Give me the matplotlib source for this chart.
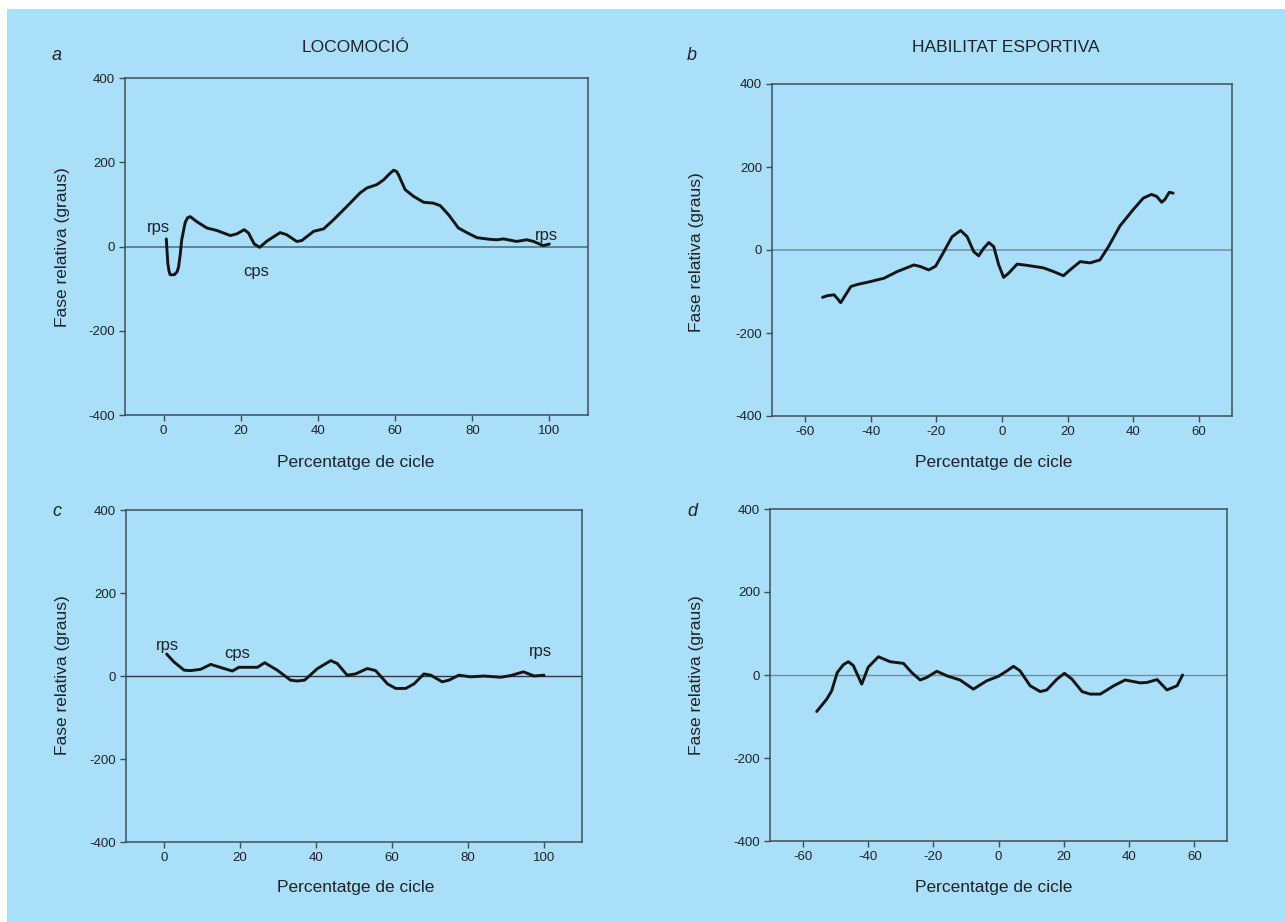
import matplotlib
matplotlib.use("Agg")
import matplotlib.pyplot as plt
from matplotlib.patches import Rectangle

plt.rcParams['font.family'] = ['Liberation Sans', 'DejaVu Sans']
plt.rcParams['axes.unicode_minus'] = False

# ---- data -------------------------------------------------------------
a_x = [0.7, 1.1, 1.4, 1.7, 2.8, 3.5, 3.9, 4.3, 4.7, 5.6, 6.2, 6.9, 8.6, 11.2,
       13.8, 17.3, 19.0, 20.9, 22.0, 23.5, 24.9, 26.8, 30.2, 31.9, 34.5,
       35.8, 38.9, 41.5, 44.0, 47.5, 50.9, 52.7, 55.3, 57.0, 58.5, 59.6,
       60.4, 60.9, 62.6, 64.8, 67.4, 69.9, 71.7, 73.9, 76.4, 78.6, 81.2,
       84.6, 86.4, 88.1, 91.5, 94.1, 95.9, 98.4, 100.0]
a_y = [18, -40, -58, -67, -67, -60, -48, -20, 16, 57, 68, 71, 59, 44,
       38, 26, 30, 40, 32, 6, -2, 13, 33, 28, 12,
       14, 36, 42, 63, 95, 127, 139, 147, 158, 172, 181,
       178, 170, 135, 119, 105, 103, 97, 75, 44, 33, 21,
       17, 16, 18, 12, 16, 12, 2, 6]

b_x = [-54.6, -53.1, -51.1, -50.1, -49.1, -47.6, -46.0, -44.0, -40.0, -35.9,
       -31.9, -26.8, -24.8, -22.3, -20.2, -17.7, -15.2, -12.6, -10.6, -8.6,
       -7.1, -5.6, -4.0, -2.5, -1.0, 0.5, 2.0, 4.6, 7.6, 12.6, 15.7, 18.7,
       20.7, 23.8, 26.8, 29.8, 32.4, 35.9, 40.0, 43.0, 45.5, 47.1, 48.6,
       49.6, 50.9, 52.1]
b_y = [-114, -110, -108, -117, -127, -108, -88, -83, -76, -68,
       -52, -36, -40, -48, -39, -4, 32, 47, 32, -4,
       -14, 4, 18, 8, -36, -66, -56, -34, -37, -43, -52, -62,
       -48, -28, -31, -24, 8, 58, 98, 125, 134, 129, 115,
       122, 139, 137]

c_x = [0.7, 2.6, 5.3, 7.0, 9.6, 12.3, 15.8, 18.0, 19.7, 21.9, 24.6, 26.5,
       29.8, 33.3, 35.1, 37.0, 40.4, 43.9, 45.6, 48.2, 50.4, 53.5, 55.7,
       58.8, 61.0, 63.6, 65.8, 68.4, 70.2, 73.2, 75.0, 77.6, 80.7, 84.2,
       88.6, 91.2, 94.6, 97.4, 100.0]
c_y = [53, 34, 14, 13, 16, 28, 18, 12, 21, 21, 21, 32,
       14, -10, -12, -10, 18, 37, 30, 2, 5, 18, 13,
       -19, -30, -30, -19, 5, 2, -14, -10, 2, -2, 0,
       -3, 1, 10, 0, 2]

d_x = [-55.7, -52.6, -51.1, -49.4, -47.5, -46.0, -44.5, -41.9, -39.9, -36.8,
       -33.2, -29.1, -26.6, -24.0, -22.0, -18.9, -15.8, -11.8, -7.7, -3.6,
       0.0, 2.6, 4.6, 6.6, 9.7, 12.8, 14.8, 17.9, 20.2, 22.5, 25.6, 28.1,
       31.2, 35.3, 38.8, 43.4, 45.5, 48.6, 51.6, 54.7, 56.4]
d_y = [-88, -58, -38, 6, 25, 32, 23, -22, 19, 44,
       32, 28, 6, -12, -6, 9, -2, -12, -34, -14,
       -3, 10, 21, 10, -26, -40, -36, -10, 4, -10, -40, -46,
       -46, -26, -12, -19, -18, -11, -36, -26, 0]

loco_ticks = [0, 20, 40, 60, 80, 100]
hab_ticks = [-60, -40, -20, 0, 20, 40, 60]
y_ticks = [-400, -200, 0, 200, 400]

panel_letters = ['a', 'b', 'c', 'd']
titles = ['LOCOMOCIÓ', 'HABILITAT ESPORTIVA']
ylabel = 'Fase relativa (graus)'
xlabel = 'Percentatge de cicle'

# ---- styling ------------------------------------------------------------
W, H = 1285, 922
BG = '#aadff9'
SPINE = '#3f4d58'
TXT = '#1e2328'

fig = plt.figure(figsize=(W / 100, H / 100), dpi=100, facecolor='white')
fig.patches.append(Rectangle((7 / W, 0), 1 - 7 / W, 1 - 9 / H,
                             transform=fig.transFigure, facecolor=BG,
                             edgecolor='none', zorder=-10))


def px_box(l, t, r, b):
    return [l / W, 1 - b / H, (r - l) / W, (b - t) / H]


panels = [
    dict(box=px_box(125, 78, 588, 415), x=a_x, y=a_y, xlim=(-10, 110),
         ticks=loco_ticks, zc='#51677a', zw=1.1),
    dict(box=px_box(772, 84, 1232, 416), x=b_x, y=b_y, xlim=(-70, 70),
         ticks=hab_ticks, zc='#6f8fa3', zw=1.1),
    dict(box=px_box(126, 510, 582, 842), x=c_x, y=c_y, xlim=(-10, 110),
         ticks=loco_ticks, zc='#2a3842', zw=1.0),
    dict(box=px_box(770, 509, 1227, 841), x=d_x, y=d_y, xlim=(-70, 70),
         ticks=hab_ticks, zc='#6f8fa3', zw=1.0),
]

axes = []
for p in panels:
    ax = fig.add_axes(p['box'])
    ax.set_facecolor('none')
    ax.set_xlim(*p['xlim'])
    ax.set_ylim(-400, 400)
    ax.set_xticks(p['ticks'])
    ax.set_yticks(y_ticks)
    ax.axhline(0, color=p['zc'], lw=p['zw'], zorder=1)
    ax.plot(p['x'], p['y'], color='#151515', lw=2.1,
            solid_joinstyle='round', solid_capstyle='round', zorder=3)
    for s in ax.spines.values():
        s.set_color(SPINE)
        s.set_linewidth(1.1)
    ax.tick_params(direction='out', length=4, width=1.0, color=SPINE,
                   labelsize=9.5, labelcolor=TXT, pad=3)
    axes.append(ax)

# stance-phase markers
ann = dict(fontsize=12, color=TXT, ha='center', va='center')
axes[0].text(-1.3, 44, 'rps', **ann)
axes[0].text(23.9, -59, 'cps', **ann)
axes[0].text(99.1, 26, 'rps', **ann)
axes[2].text(0.9, 73, 'rps', **ann)
axes[2].text(19.3, 54, 'cps', **ann)
axes[2].text(99.1, 58, 'rps', **ann)

# panel letters, titles and axis labels
for lab, (x, y) in zip(panel_letters, [(57, 55), (692, 55), (57, 512), (692, 512)]):
    fig.text(x / W, 1 - y / H, lab, fontsize=13, style='italic', color=TXT,
             ha='center', va='center')
for t, x in zip(titles, [356, 1006]):
    fig.text(x / W, 1 - 48 / H, t, fontsize=12.5, color=TXT,
             ha='center', va='center')
for x, y in [(63, 247), (697, 252), (63, 675), (697, 675)]:
    fig.text(x / W, 1 - y / H, ylabel, fontsize=12.5, color=TXT,
             rotation=90, ha='center', va='center')
for x, y in [(356, 463), (994, 463), (356, 887), (994, 887)]:
    fig.text(x / W, 1 - y / H, xlabel, fontsize=12.5, color=TXT,
             ha='center', va='center')

fig.savefig('out.png', dpi=100, facecolor=fig.get_facecolor())
